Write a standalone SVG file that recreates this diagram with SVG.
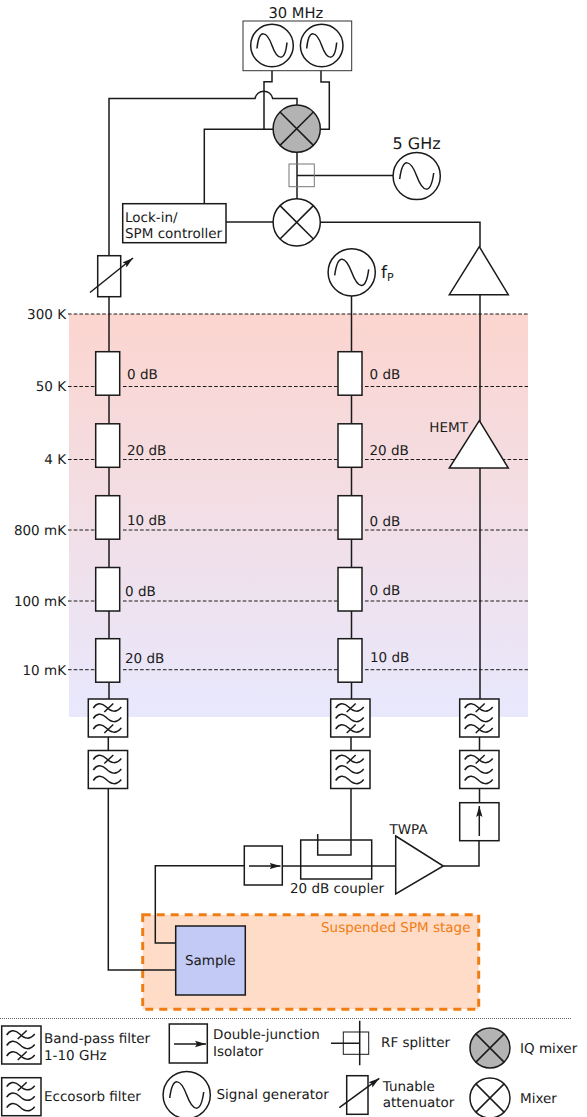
<svg xmlns="http://www.w3.org/2000/svg" width="587" height="1117" viewBox="0 0 587 1117">
<style>
text{font-family:"DejaVu Sans",sans-serif;font-size:13.5px;fill:#1a1a1a;text-rendering:geometricPrecision}
.w{fill:none;stroke:#1a1a1a;stroke-width:1.5}
.b{fill:#fff;stroke:#1a1a1a;stroke-width:1.5}
.d{fill:none;stroke:#1a1a1a;stroke-width:1;stroke-dasharray:3.6 2.1}
.e{text-anchor:end}
.o{fill:#ef7d14}
.a{marker-end:url(#arr)}
</style>
<defs>
<linearGradient id="g" x1="0" y1="0" x2="0" y2="1"><stop offset="0" stop-color="#fcd5cf"/><stop offset="1" stop-color="#e8e8fd"/></linearGradient>
<marker id="arr" markerUnits="userSpaceOnUse" markerWidth="12" markerHeight="8" refX="11" refY="4" orient="auto"><path d="M0,0.8 L11,4 L0,7.2 L2,4 Z" fill="#1a1a1a"/></marker>
<symbol id="att" overflow="visible"><rect class="b" x="0" y="0" width="24" height="43.5"/></symbol>
<g id="wave"><path class="w" d="M5,9 C8,4 13,3 18,8 S28,14 33,8"/></g>
<g id="bp"><rect class="b" x="0" y="0" width="39.3" height="38"/><use href="#wave"/><use href="#wave" y="10.5"/><use href="#wave" y="21"/><path class="w" d="M16,13 L25,4.5 M16,34 L25,25.5"/></g>
<g id="ec"><rect class="b" x="0" y="0" width="39.3" height="38"/><use href="#wave"/><use href="#wave" y="10.5"/><use href="#wave" y="21"/><path class="w" d="M16,13 L25,4.5"/></g>
<g id="sine"><circle class="b" cx="0" cy="0" r="21.3"/><path class="w" d="M-15,3 C-13,-18 -5,-14 0,0 S13,18 15,-3"/></g>
<g id="sine2"><circle class="b" cx="0" cy="0" r="23.6"/><path class="w" d="M-17,3 C-14,-20 -6,-16 0,0 S14,20 17,-3"/></g>
<g id="mix"><circle class="b" cx="0" cy="0" r="23.6"/><path class="w" d="M-16.7,-16.7 L16.7,16.7 M-16.7,16.7 L16.7,-16.7"/></g>
<g id="iq"><circle class="w" style="fill:#b3b3b3" cx="0" cy="0" r="23.6"/><path class="w" d="M-16.7,-16.7 L16.7,16.7 M-16.7,16.7 L16.7,-16.7"/></g>
</defs>

<g id="temperature-stages">
<rect x="69" y="314" width="459" height="403" fill="url(#g)"/>
<path class="d" d="M68,314 H528"/>
<path class="d" d="M68,386.5 H96 M123,386.5 H338 M365,386.5 H528"/>
<path class="d" d="M68,459.5 H96 M123,459.5 H338 M365,459.5 H528"/>
<path class="d" d="M68,530 H96 M123,530 H338 M365,530 H528"/>
<path class="d" d="M68,601 H96 M123,601 H338 M365,601 H528"/>
<path class="d" d="M68,669.7 H96 M123,669.7 H338 M365,669.7 H528"/>
<text class="e" x="66" y="319">300 K</text>
<text class="e" x="66" y="391">50 K</text>
<text class="e" x="66" y="464">4 K</text>
<text class="e" x="66" y="535">800 mK</text>
<text class="e" x="66" y="606">100 mK</text>
<text class="e" x="66" y="675">10 mK</text>
</g>

<g id="stage">
<rect x="142.7" y="914.7" width="336" height="94.6" fill="#ffdcc7" stroke="#ef7d14" stroke-width="3" stroke-dasharray="8 6"/>
<text class="o" x="321" y="931.5">Suspended SPM stage</text>
</g>

<g id="connectors">
<path class="w" d="M272,66 V81.7 H264 V129.3"/>
<path class="w" d="M321,66 V82 H329.3 V129.3 H320"/>
<path class="w" d="M109,256 V98.5 H255 A9,9 0 0 1 272.7,98.5 H297 V105"/>
<path class="w" d="M204.3,204 V129.3 H273"/>
<path class="w" d="M297,152 V199"/>
<path class="w" d="M297,175.5 H393"/>
<path class="w" d="M226,222 H273"/>
<path class="w" d="M320,222.3 H480 V247"/>
<path class="w" d="M109,297 V699"/>
<path class="w" d="M351.5,296 V699"/>
<path class="w" d="M480,295 V699"/>
<path class="w" d="M108.3,737 V750 M351,737 V750 M479.5,737 V750"/>
<path class="w" d="M108.3,788.7 V970 H176"/>
<path class="w" d="M351,788.7 V855 H317.7 V834"/>
<path class="w" d="M479.5,788.7 V803"/>
<path class="w" d="M176,943 H155.3 V865.7 H244.3"/>
<path class="w" d="M282.3,866 H396"/>
<path class="w" d="M443.3,866 H479 V840.7"/>
</g>

<g id="osc-30mhz"><rect x="243" y="21" width="108.7" height="49.7" fill="#fff" stroke="#333" stroke-width="1"/><use href="#sine" x="272" y="45.5"/><use href="#sine" x="321.7" y="45.5"/><text x="268.5" y="18" style="font-size:14.7px">30 MHz</text></g>
<g id="iq-mixer"><use href="#iq" x="296.7" y="128.7"/></g>
<g id="splitter"><rect x="289" y="164" width="25.3" height="22.7" fill="none" stroke="#777" stroke-width="1"/></g>
<g id="osc-5ghz"><use href="#sine2" x="416.7" y="176"/><text x="392.5" y="149" style="font-size:16px">5 GHz</text></g>
<g id="mixer"><use href="#mix" x="296.7" y="222.3"/></g>
<g id="lockin"><rect class="b" x="122.7" y="203.7" width="103.3" height="39"/><text x="125" y="221.5">Lock-in/</text><text x="125" y="238">SPM controller</text></g>
<g id="top-amp"><path class="b" d="M479.3,246.7 L508.3,294.7 H449.3 Z"/></g>
<g id="osc-fp"><use href="#sine2" x="351.7" y="272.3"/><text x="381" y="278" style="font-size:17px">f<tspan dy="3" style="font-size:11px">P</tspan></text></g>
<g id="tunable-attenuator"><rect class="b" x="97.7" y="255.7" width="23" height="41"/><path class="w a" d="M90,292.5 L133,258"/></g>

<g id="att-left">
<use href="#att" x="95.7" y="351.7"/><use href="#att" x="95.7" y="423.8"/><use href="#att" x="95.7" y="495.7"/><use href="#att" x="95.7" y="567.5"/><use href="#att" x="95.7" y="638.7"/>
<text x="127" y="379">0 dB</text><text x="127" y="454.7">20 dB</text><text x="127" y="524.5">10 dB</text><text x="125" y="596">0 dB</text><text x="125" y="663">20 dB</text>
</g>
<g id="att-mid">
<use href="#att" x="338" y="351.7"/><use href="#att" x="338" y="423.8"/><use href="#att" x="338" y="495.7"/><use href="#att" x="338" y="567.5"/><use href="#att" x="338" y="638.7"/>
<text x="369.5" y="379">0 dB</text><text x="369.5" y="455">20 dB</text><text x="369.5" y="526">0 dB</text><text x="369.5" y="595">0 dB</text><text x="370" y="662">10 dB</text>
</g>
<g id="hemt"><path class="b" d="M479.3,420.7 L508.3,468 H449.3 Z"/><text x="429.3" y="432">HEMT</text></g>

<g id="filters">
<use href="#bp" x="88.3" y="699"/><use href="#ec" x="88.3" y="750.5"/>
<use href="#bp" x="330.7" y="699"/><use href="#ec" x="330.7" y="750.5"/>
<use href="#bp" x="459.7" y="699"/><use href="#ec" x="459.7" y="750.5"/>
</g>
<g id="iso-right"><rect class="b" x="459.7" y="802.7" width="39.3" height="38"/><path class="w a" d="M479.3,836 V806"/></g>
<g id="iso-left"><rect class="b" x="244.3" y="846" width="38" height="39"/><path class="w a" d="M249,866 H280.5"/></g>
<g id="coupler"><rect x="300.7" y="840" width="71" height="39" fill="none" stroke="#1a1a1a" stroke-width="1.5"/><text x="290" y="893">20 dB coupler</text></g>
<g id="twpa"><path class="b" d="M395.7,836 L443.3,866 L395.7,894 Z"/><text x="389.5" y="834">TWPA</text></g>
<g id="sample"><rect x="175.7" y="926" width="69.6" height="69" fill="#c2caf5" stroke="#1a1a1a" stroke-width="1.5"/><text x="185" y="965">Sample</text></g>

<g id="legend">
<path d="M0,1018.5 H572" fill="none" stroke="#666" stroke-width="1" stroke-dasharray="1 1"/>
<use href="#bp" x="1.7" y="1026"/><text x="44" y="1043">Band-pass filter</text><text x="44" y="1060">1-10 GHz</text>
<use href="#ec" x="1.7" y="1077.7"/><text x="44" y="1100.7">Eccosorb filter</text>
<rect class="b" x="169.3" y="1024" width="38" height="39"/><path class="w a" d="M174,1044 H206"/><text x="213" y="1039">Double-junction</text><text x="213" y="1056">Isolator</text>
<use href="#sine2" x="186.7" y="1095"/><text x="216.5" y="1099">Signal generator</text>
<rect x="343.3" y="1032" width="25.4" height="22.3" fill="none" stroke="#1a1a1a" stroke-width="1"/><path class="w" d="M359.7,1020.7 V1065.3 M331,1043.3 H359.7"/><text x="381" y="1047">RF splitter</text>
<rect class="b" x="346.7" y="1075.7" width="21.3" height="38.6"/><path class="w a" d="M339.3,1107.7 L379.3,1078.3"/><text x="382.7" y="1091">Tunable</text><text x="382.7" y="1107">attenuator</text>
<circle cx="490" cy="1048" r="20" fill="#b3b3b3" stroke="#1a1a1a" stroke-width="1.5"/><path class="w" d="M475.9,1033.9 L504.1,1062.1 M475.9,1062.1 L504.1,1033.9"/><text x="520" y="1052.7">IQ mixer</text>
<circle cx="490" cy="1098" r="20" fill="#fff" stroke="#1a1a1a" stroke-width="1.5"/><path class="w" d="M475.9,1083.9 L504.1,1112.1 M475.9,1112.1 L504.1,1083.9"/><text x="520" y="1103">Mixer</text>
</g>
</svg>
